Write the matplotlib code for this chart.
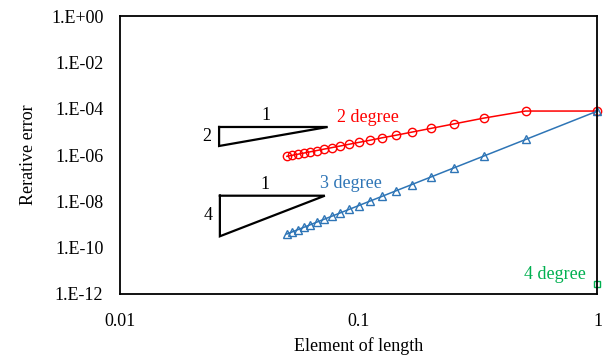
import numpy as np
import matplotlib
matplotlib.use("Agg")
import matplotlib.pyplot as plt

plt.rcParams['font.family'] = ['Liberation Serif', 'DejaVu Serif']

# element length h = 1/n, n = 1..20
n_elem = np.arange(1, 21)
h = 1.0 / n_elem

err_2deg = [7.9e-5, 7.9e-5, 3.9e-5, 2.19e-5, 1.4e-5, 9.7e-6, 7.1e-6, 5.5e-6, 4.3e-6, 3.5e-6,
            2.9e-6, 2.43e-6, 2.07e-6, 1.79e-6, 1.56e-6, 1.37e-6, 1.21e-6, 1.08e-6, 9.7e-7, 8.75e-7]
err_3deg = [7.9e-5, 4.67e-6, 8.93e-7, 2.76e-7, 1.11e-7, 5.28e-8, 2.82e-8, 1.63e-8, 1.01e-8, 6.57e-9,
            4.45e-9, 3.12e-9, 2.25e-9, 1.67e-9, 1.26e-9, 9.65e-10, 7.54e-10, 5.98e-10, 4.79e-10, 3.89e-10]
h_4deg = [1.0]
err_4deg = [2.7e-12]

# slope triangles (x_left, x_right, y_top, y_bottom)
tri_2 = (0.026, 0.0741, 1.62e-5, 2.45e-6)
tri_4 = (0.0262, 0.0721, 1.75e-8, 3.1e-10)

red = '#FF0000'
blue = '#2E75B6'
green = '#00B050'
fs = 13

fig = plt.figure(figsize=(6.08, 3.56), dpi=100)
ax = fig.add_axes([0.1974, 0.1742, 0.7853, 0.7808])

ax.plot(h, err_2deg, color=red, lw=1.1, marker='o', ms=6, mfc='none', mec=red, mew=1.0, clip_on=False)
ax.plot(h, err_3deg, color=blue, lw=1.1, marker='^', ms=6, mfc='none', mec=blue, mew=1.0, clip_on=False)
ax.plot(h_4deg, err_4deg, ls='none', color=green, marker='s', ms=5, mfc='none', mec=green, mew=1.0,
        clip_on=False)

for (x0, x1, yt, yb), lab in [(tri_2, '2'), (tri_4, '4')]:
    ax.plot([x0, x1, x0, x0], [yt, yt, yb, yt], color='black', lw=1.6, solid_joinstyle='miter')
    ax.text(np.sqrt(x0 * x1) * 0.93, yt * 1.3, '1', fontsize=fs, ha='center', va='bottom')
    ax.text(x0 * 0.93, np.sqrt(yt * yb), lab, fontsize=fs, ha='right', va='center')

ax.text(0.081, 4.0e-5, '2 degree', color=red, fontsize=fs, ha='left', va='center')
ax.text(0.0687, 6.0e-8, '3 degree', color=blue, fontsize=fs, ha='left', va='center')
ax.text(0.891, 7e-12, '4 degree', color=green, fontsize=fs, ha='right', va='center')

ax.set_xscale('log')
ax.set_yscale('log')
ax.set_xlim(0.01, 1)
ax.set_ylim(1e-12, 1)
ax.set_xticks([0.01, 0.1, 1])
ax.set_xticklabels(['0.01', '0.1', '1'])
yt_vals = [10.0 ** k for k in range(-12, 1, 2)]
ax.set_yticks(yt_vals)
ax.set_yticklabels(['1.E%+03d' % k for k in range(-12, 1, 2)])
ax.minorticks_off()
ax.tick_params(length=0, labelsize=fs, pad=12)
ax.tick_params(axis='x', pad=14)
for s in ax.spines.values():
    s.set_linewidth(1.3)

ax.set_xlabel('Element of length', fontsize=fs, labelpad=5)
ax.set_ylabel('Rerative error', fontsize=fs, labelpad=10)

fig.savefig('out.png', dpi=100)
